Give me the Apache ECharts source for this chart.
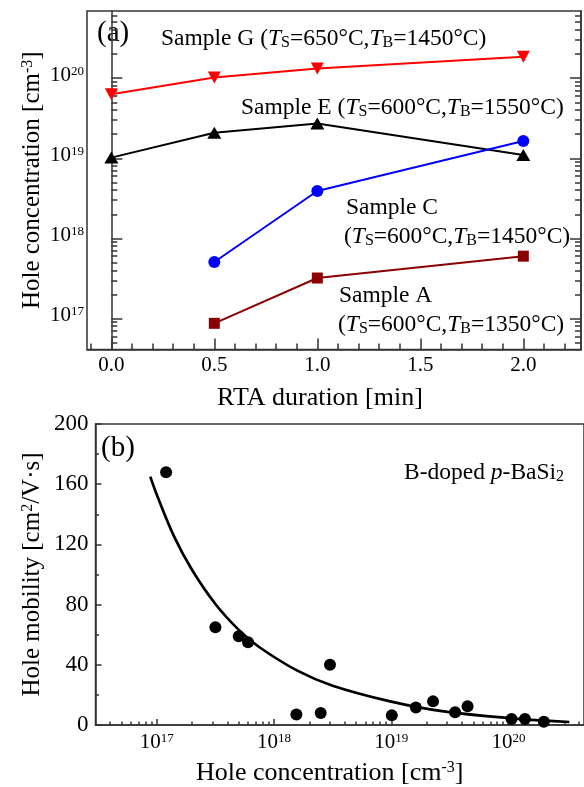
<!DOCTYPE html>
<html>
<head>
<meta charset="utf-8">
<script src="https://cdn.jsdelivr.net/npm/echarts@6/dist/echarts.min.js"></script>
<style>
  html, body { margin: 0; padding: 0; background: #fff; }
  #main { width: 584px; height: 787px; }
</style>
</head>
<body>
<div id="main"></div>
<script>
// panel (a): hole concentration vs RTA duration
const rtaTimes = [0, 0.5, 1, 2];
const sampleG = [6.3e19, 1.02e20, 1.32e20, 1.85e20];
const sampleE = [1.02e19, 2.08e19, 2.72e19, 1.1e19];
const sampleC = [null, 5.07e17, 3.9e18, 1.64e19];
const sampleA = [null, 8.7e16, 3.2e17, 6.0e17];

const rtaTicks = [0, 0.5, 1, 1.5, 2];
const concTicksA = [1e17, 1e18, 1e19, 1e20];

// panel (b): hole mobility vs hole concentration
const holeConc = [1.2e17, 3.16e17, 5.0e17, 6.0e17, 1.55e18, 2.5e18, 3.0e18, 1.01e19,
                  1.62e19, 2.27e19, 3.5e19, 4.47e19, 1.06e20, 1.38e20, 2.0e20];
const holeMob = [168, 65, 59, 55, 7, 8, 40, 6.4, 11.7, 15.7, 8.4, 12.4, 4.0, 4.0, 2.2];
// fitted curve
const fitConc = [8.8e16, 1.0e17, 1.41e17, 2.0e17, 3.16e17, 5.0e17, 7.4e17, 1.58e18,
                 3.16e18, 1.0e19, 2.7e19, 1.15e20, 3.3e20];
const fitMob = [165, 153, 125, 103, 80.4, 63.2, 52, 36.1, 26.1, 15.5, 9.2, 4.2, 2.0];

const mobTicks = [0, 40, 80, 120, 160, 200];
const concTicksB = [1e17, 1e18, 1e19, 1e20];

const FONT = 'Liberation Serif';
const AXIS = '#333';

function pairs(xs, ys) {
    const out = [];
    xs.forEach((x, i) => { if (ys[i] != null) out.push([x, ys[i]]); });
    return out;
}

// minor ticks for log axes: 2..9 x 10^n
function logMinor(lo, hi) {
    const out = [];
    for (let e = lo; e <= hi; e++) {
        for (let m = 2; m <= 9; m++) out.push(m * Math.pow(10, e));
    }
    return out;
}

const rtaMinor = [];
for (let i = -1; i <= 22; i++) rtaMinor.push(i / 10);

function powLabel(size, extra) {
    return Object.assign({
        fontFamily: FONT, color: '#000',
        formatter: v => '{b|10}{s|' + Math.round(Math.log10(v)) + '}',
        rich: {
            b: { fontFamily: FONT, fontSize: size, lineHeight: size + 6, verticalAlign: 'top', color: '#000' },
            s: { fontFamily: FONT, fontSize: 13, lineHeight: 14, verticalAlign: 'top', color: '#000' }
        }
    }, extra);
}

const supRich = { s: { fontFamily: FONT, fontSize: 16, verticalAlign: 'top', lineHeight: 16, color: '#000' } };

const chart = echarts.init(document.getElementById('main'), null, { renderer: 'canvas' });

const lineStyleAxis = { color: AXIS, width: 1.5 };

const option = {
    backgroundColor: '#fff',
    animation: false,
    grid: [
        { left: 87, top: 11, width: 494, height: 338.5, show: true, borderColor: AXIS, borderWidth: 1.5 },
        { left: 95.5, top: 424, width: 495, height: 301.3, show: true, borderColor: AXIS, borderWidth: 1.5 }
    ],
    xAxis: [
        {
            gridIndex: 0, type: 'value', position: 'bottom', min: -0.118, max: 2.28,
            axisLine: { show: true, lineStyle: lineStyleAxis },
            axisTick: { show: true, inside: true, length: 11, customValues: rtaTicks, lineStyle: lineStyleAxis },
            axisLabel: { customValues: rtaTicks, formatter: v => v.toFixed(1), fontFamily: FONT, fontSize: 21, color: '#000', margin: 5 },
            splitLine: { show: false },
            name: 'RTA duration [min]', nameLocation: 'middle', nameGap: 36,
            nameTextStyle: { fontFamily: FONT, fontSize: 26, color: '#000', padding: [0, 28, 0, 0] }
        },
        {
            gridIndex: 0, type: 'value', position: 'bottom', min: -0.118, max: 2.28,
            axisLine: { show: false },
            axisTick: { show: true, inside: true, length: 6, customValues: rtaMinor, lineStyle: lineStyleAxis },
            axisLabel: { show: false },
            splitLine: { show: false }
        },
        {
            gridIndex: 1, type: 'log', position: 'bottom', min: 3.0e16, max: 4.4e20,
            axisLine: { show: true, lineStyle: lineStyleAxis },
            axisTick: { show: true, inside: true, length: 6, customValues: concTicksB, lineStyle: lineStyleAxis },
            axisLabel: powLabel(21, { customValues: concTicksB, margin: 7 }),
            splitLine: { show: false },
            name: 'Hole concentration [cm{s|-3}]', nameLocation: 'middle', nameGap: 35,
            nameTextStyle: { fontFamily: FONT, fontSize: 26, color: '#000', rich: supRich, padding: [0, 20, 0, 0] }
        },
        {
            gridIndex: 1, type: 'log', position: 'bottom', min: 3.0e16, max: 4.4e20,
            axisLine: { show: false },
            axisTick: { show: true, inside: true, length: 3.5, customValues: logMinor(16, 20), lineStyle: lineStyleAxis },
            axisLabel: { show: false },
            splitLine: { show: false }
        }
    ],
    yAxis: [
        {
            gridIndex: 0, type: 'log', position: 'left', min: 4.1e16, max: 6.9e20,
            axisLine: { show: true, lineStyle: lineStyleAxis },
            axisTick: { show: true, inside: true, length: 11, customValues: concTicksA, lineStyle: lineStyleAxis },
            axisLabel: powLabel(21, { customValues: concTicksA, margin: 3 }),
            splitLine: { show: false },
            name: 'Hole concentration [cm{s|-3}]', nameLocation: 'middle', nameGap: 42, nameMoveOverlap: false,
            nameTextStyle: { fontFamily: FONT, fontSize: 25, color: '#000', rich: supRich }
        },
        {
            gridIndex: 0, type: 'log', position: 'left', min: 4.1e16, max: 6.9e20,
            axisLine: { show: false },
            axisTick: { show: true, inside: true, length: 6, customValues: logMinor(16, 20), lineStyle: lineStyleAxis },
            axisLabel: { show: false },
            splitLine: { show: false }
        },
        {
            gridIndex: 0, type: 'log', position: 'right', min: 4.1e16, max: 6.9e20,
            axisLine: { show: true, lineStyle: lineStyleAxis },
            axisTick: { show: true, inside: true, length: 11, customValues: concTicksA, lineStyle: lineStyleAxis },
            axisLabel: { show: false },
            splitLine: { show: false }
        },
        {
            gridIndex: 0, type: 'log', position: 'right', min: 4.1e16, max: 6.9e20,
            axisLine: { show: false },
            axisTick: { show: true, inside: true, length: 6, customValues: logMinor(16, 20), lineStyle: lineStyleAxis },
            axisLabel: { show: false },
            splitLine: { show: false }
        },
        {
            gridIndex: 1, type: 'value', position: 'left', min: 0, max: 200, interval: 40,
            axisLine: { show: true, lineStyle: lineStyleAxis },
            axisTick: { show: true, inside: true, length: 6, lineStyle: lineStyleAxis },
            minorTick: { show: true, splitNumber: 2, length: 3.5, lineStyle: lineStyleAxis },
            axisLabel: { fontFamily: FONT, fontSize: 23, color: '#000', margin: 7 },
            splitLine: { show: false },
            name: 'Hole mobility [cm{s|2}/V·s]', nameLocation: 'middle', nameGap: 51, nameMoveOverlap: false,
            nameTextStyle: { fontFamily: FONT, fontSize: 25, color: '#000', rich: supRich }
        }
    ],
    series: [
        {
            name: 'Sample G', type: 'line', xAxisIndex: 0, yAxisIndex: 0,
            data: pairs(rtaTimes, sampleG),
            symbol: 'triangle', symbolRotate: 180, symbolSize: [13, 12],
            lineStyle: { color: '#ff0000', width: 2 }, itemStyle: { color: '#ff0000' }
        },
        {
            name: 'Sample E', type: 'line', xAxisIndex: 0, yAxisIndex: 0,
            data: pairs(rtaTimes, sampleE),
            symbol: 'triangle', symbolSize: [14, 12],
            lineStyle: { color: '#000', width: 2 }, itemStyle: { color: '#000' }
        },
        {
            name: 'Sample C', type: 'line', xAxisIndex: 0, yAxisIndex: 0,
            data: pairs(rtaTimes, sampleC),
            symbol: 'circle', symbolSize: 12,
            lineStyle: { color: '#0000ff', width: 2 }, itemStyle: { color: '#0000ff' }
        },
        {
            name: 'Sample A', type: 'line', xAxisIndex: 0, yAxisIndex: 0,
            data: pairs(rtaTimes, sampleA),
            symbol: 'rect', symbolSize: 11,
            lineStyle: { color: '#8b0000', width: 2 }, itemStyle: { color: '#8b0000' }
        },
        {
            name: 'fit', type: 'line', xAxisIndex: 2, yAxisIndex: 4,
            data: pairs(fitConc, fitMob), smooth: 0.4, showSymbol: false,
            lineStyle: { color: '#000', width: 2.7 }
        },
        {
            name: 'data', type: 'scatter', xAxisIndex: 2, yAxisIndex: 4,
            data: pairs(holeConc, holeMob), symbol: 'circle', symbolSize: 12,
            itemStyle: { color: '#000', opacity: 1 }
        }
    ],
    graphic: [
        { type: 'text', left: 97, top: 19, style: { text: '(a)', font: '29px "Liberation Serif"', fill: '#000' } },
        { type: 'text', left: 101, top: 434, style: { text: '(b)', font: '29px "Liberation Serif"', fill: '#000' } }
    ]
};

function sampleText(x, y, parts, size) {
    const fs = size || 23.5;
    return {
        type: 'text', x: x, y: y,
        style: {
            text: parts, fill: '#000', verticalAlign: 'middle',
            rich: {
                n: { fontFamily: FONT, fontSize: fs, lineHeight: 31, verticalAlign: 'bottom', fill: '#000' },
                i: { fontFamily: FONT, fontSize: fs, fontStyle: 'italic', lineHeight: 31, verticalAlign: 'bottom', fill: '#000' },
                s: { fontFamily: FONT, fontSize: 16, lineHeight: 16, verticalAlign: 'bottom', fill: '#000' }
            }
        }
    };
}
const cond = (ts, tb) => '{n|(}{i|T}{s|S}{n|=' + ts + '°C,}{i|T}{s|B}{n|=' + tb + '°C)}';

option.graphic.push(
    sampleText(161, 35, '{n|Sample G }' + cond(650, 1450)),
    sampleText(241, 104, '{n|Sample E }' + cond(600, 1550)),
    sampleText(346, 204, '{n|Sample C}'),
    sampleText(344, 233, cond(600, 1450)),
    sampleText(339, 292, '{n|Sample A}'),
    sampleText(338, 321, cond(600, 1350)),
    sampleText(404, 469, '{n|B-doped }{i|p}{n|-BaSi}{s|2}', 23.5)
);

chart.setOption(option);

window.addEventListener('resize', function () {
    chart.resize();
});
</script>
</body>
</html>
